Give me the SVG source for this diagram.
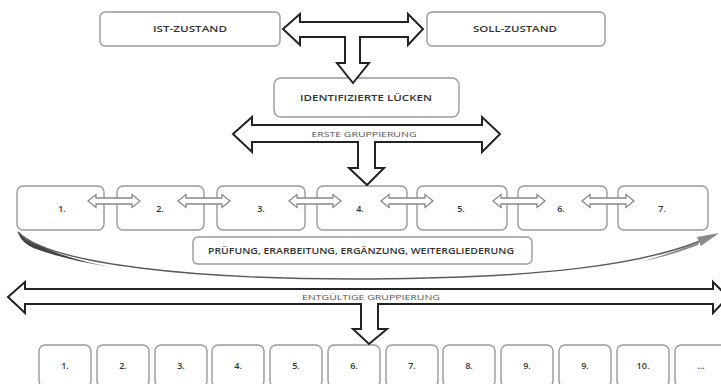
<svg xmlns="http://www.w3.org/2000/svg" width="721" height="384" viewBox="0 0 721 384">
<style>
.box{fill:#fff;stroke:#999;stroke-width:1.4}
.big{fill:#fff;stroke:#222;stroke-width:2;stroke-linejoin:miter}
.sm{fill:#fff;stroke:#888;stroke-width:1.3}
text{font-family:"Open Sans","Liberation Sans",sans-serif;fill:#333;text-anchor:middle;font-size:9px;font-weight:600}
.lbl{font-size:8px;fill:#555;font-weight:400}
</style>
<rect width="721" height="384" fill="#fff"/>
<g id="ist"><rect class="box" x="100" y="12" width="180" height="34" rx="5"/><text x="190" y="32" textLength="74" lengthAdjust="spacingAndGlyphs">IST-ZUSTAND</text></g>
<g id="soll"><rect class="box" x="427" y="12" width="178" height="34" rx="5"/><text x="515" y="32" textLength="84" lengthAdjust="spacingAndGlyphs">SOLL-ZUSTAND</text></g>
<g id="luecken"><rect class="box" x="274" y="78" width="185" height="39" rx="7"/><text x="366" y="101" textLength="132" lengthAdjust="spacingAndGlyphs">IDENTIFIZIERTE LÜCKEN</text></g>
<g id="top-row">
<g id="n1"><rect class="box" x="17" y="186" width="87" height="44" rx="6"/><text x="62" y="212">1.</text></g>
<g id="n2"><rect class="box" x="117" y="186" width="87" height="44" rx="6"/><text x="160" y="212">2.</text></g>
<g id="n3"><rect class="box" x="217" y="186" width="88" height="44" rx="6"/><text x="261" y="212">3.</text></g>
<g id="n4"><rect class="box" x="317" y="186" width="90" height="44" rx="6"/><text x="360" y="212">4.</text></g>
<g id="n5"><rect class="box" x="417" y="186" width="90" height="44" rx="6"/><text x="461" y="212">5.</text></g>
<g id="n6"><rect class="box" x="518" y="186" width="89" height="44" rx="6"/><text x="561" y="212">6.</text></g>
<g id="n7"><rect class="box" x="618" y="186" width="90" height="44" rx="6"/><text x="662" y="212">7.</text></g>
</g>
<g id="pruefung"><rect class="box" x="193" y="237" width="339" height="27" rx="5"/><text x="361" y="254" textLength="306" lengthAdjust="spacingAndGlyphs">PRÜFUNG, ERARBEITUNG, ERGÄNZUNG, WEITERGLIEDERUNG</text></g>
<g id="bottom-row">
<g id="b1"><rect class="box" x="39" y="345" width="52" height="42" rx="6"/><text x="65" y="369">1.</text></g>
<g id="b2"><rect class="box" x="97" y="345" width="52" height="42" rx="6"/><text x="123" y="369">2.</text></g>
<g id="b3"><rect class="box" x="155" y="345" width="52" height="42" rx="6"/><text x="181" y="369">3.</text></g>
<g id="b4"><rect class="box" x="212" y="345" width="52" height="42" rx="6"/><text x="238" y="369">4.</text></g>
<g id="b5"><rect class="box" x="270" y="345" width="52" height="42" rx="6"/><text x="296" y="369">5.</text></g>
<g id="b6"><rect class="box" x="328" y="345" width="52" height="42" rx="6"/><text x="354" y="369">6.</text></g>
<g id="b7"><rect class="box" x="386" y="345" width="52" height="42" rx="6"/><text x="412" y="369">7.</text></g>
<g id="b8"><rect class="box" x="443" y="345" width="52" height="42" rx="6"/><text x="469" y="369">8.</text></g>
<g id="b9"><rect class="box" x="501" y="345" width="52" height="42" rx="6"/><text x="527" y="369">9.</text></g>
<g id="b9b"><rect class="box" x="559" y="345" width="52" height="42" rx="6"/><text x="585" y="369">9.</text></g>
<g id="b10"><rect class="box" x="617" y="345" width="52" height="42" rx="6"/><text x="643" y="369">10.</text></g>
<g id="b11"><rect class="box" x="675" y="345" width="52" height="42" rx="6"/><text x="701" y="369">...</text></g>
</g>
<g id="connectors">
<path class="big" d="M283,29 L300,14 L300,22 L408,22 L408,14 L423,29 L408,45 L408,37 L360,37 L360,63 L369,63 L353,83 L337,63 L345,63 L345,37 L300,37 L300,45 Z"/>
<path class="big" d="M233,134 L252,117 L252,125 L482,125 L482,117 L500,134 L482,152 L482,142 L375,142 L375,168 L384,168 L367,185 L349,168 L358,168 L358,142 L252,142 L252,152 Z"/>
<path class="big" d="M8,297 L25,282 L25,289 L713,289 L713,282 L728,297 L713,313 L713,304 L378,304 L378,329 L387,329 L369,344 L353,329 L361,329 L361,304 L25,304 L25,313 Z"/>
<g id="small-arrows">
<path class="sm" d="M88,201 L96,194.5 L96,198 L132,198 L132,194.5 L140,201 L132,207.5 L132,204 L96,204 L96,207.5 Z"/>
<path class="sm" d="M178,201 L186,194.5 L186,198 L222,198 L222,194.5 L230,201 L222,207.5 L222,204 L186,204 L186,207.5 Z"/>
<path class="sm" d="M289,201 L297,194.5 L297,198 L333,198 L333,194.5 L341,201 L333,207.5 L333,204 L297,204 L297,207.5 Z"/>
<path class="sm" d="M381,201 L389,194.5 L389,198 L425,198 L425,194.5 L433,201 L425,207.5 L425,204 L389,204 L389,207.5 Z"/>
<path class="sm" d="M493,201 L501,194.5 L501,198 L537,198 L537,194.5 L545,201 L537,207.5 L537,204 L501,204 L501,207.5 Z"/>
<path class="sm" d="M582,201 L590,194.5 L590,198 L626,198 L626,194.5 L634,201 L626,207.5 L626,204 L590,204 L590,207.5 Z"/>
</g>
<path d="M18,232 C50,265 200,280 370,279 C540,278 640,265 700,241" fill="none" stroke="#5a5a5a" stroke-width="1.4"/>
<path d="M18,231 C22,238 30,242 40,246 C60,255 80,261 110,267 C80,262 55,256 36,249 C26,245 19,239 18,231 Z" fill="#444"/>
<path d="M640,262 C665,255 685,248 700,241 L698,245 C680,252 660,258 640,262 Z" fill="#8a8a8a"/>
<polygon points="719,233 697,237 701,246" fill="#8a8a8a"/>
<text class="lbl" x="364" y="137" textLength="105" lengthAdjust="spacingAndGlyphs">ERSTE GRUPPIERUNG</text>
<text class="lbl" x="371" y="300" textLength="138" lengthAdjust="spacingAndGlyphs">ENTGÜLTIGE GRUPPIERUNG</text>
</g>
</svg>
